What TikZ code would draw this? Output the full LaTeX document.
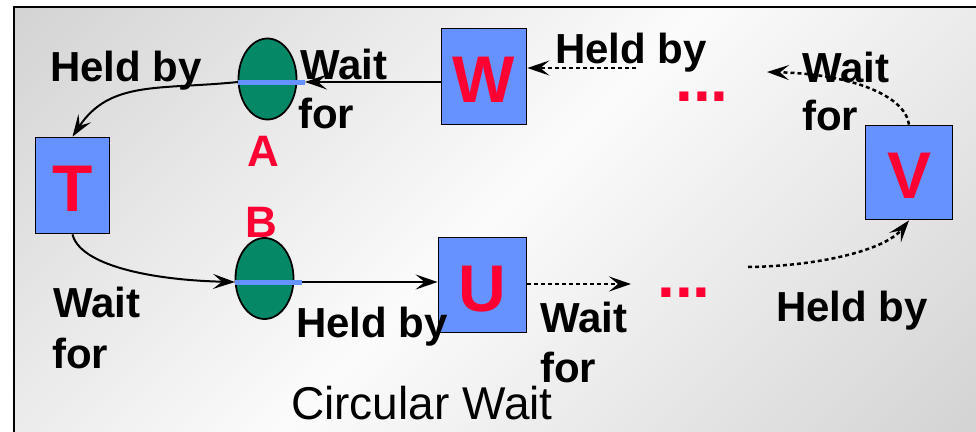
\documentclass[tikz,border=0pt]{standalone}
\usepackage{fontspec}
\setmainfont{Liberation Sans}
\usetikzlibrary{arrows.meta,shapes.geometric}
\definecolor{boxblue}{RGB}{102,146,255}
\definecolor{lred}{RGB}{255,0,51}
\definecolor{resgreen}{RGB}{5,136,102}
\begin{document}
\begin{tikzpicture}[x=1pt,y=-1pt,
  proc/.style={draw=black,line width=1.8pt,fill=boxblue,inner sep=0pt,font=\fontsize{66}{66}\selectfont\bfseries,text=lred,text height=52pt,text depth=0pt},
  res/.style={draw=black,line width=1.8pt,fill=resgreen,ellipse,inner sep=0pt,minimum width=58pt,minimum height=81pt},
  lbl/.style={font=\fontsize{42}{49}\selectfont\bfseries,inner sep=0pt,anchor=base west},
  rlbl/.style={font=\fontsize{44}{44}\selectfont\bfseries,inner sep=0pt,text=lred},
  dots/.style={font=\fontsize{64}{64}\selectfont\bfseries,inner sep=0pt,anchor=base west,text=lred,text height=9pt,text depth=0pt},
  solidarr/.style={line width=2pt,-{Stealth[length=22pt,width=15pt,inset=9pt]}},
  dotarr/.style={line width=2.5pt,dash pattern=on 4pt off 3pt,-{Stealth[length=22pt,width=15pt,inset=9pt]}},
  resbar/.style={line width=5pt,draw=boxblue}
]
\useasboundingbox (0,0) rectangle (976,431);
\begin{scope}
\clip (14,7) rectangle (976,431);
\foreach \t in {0,8,...,1000}{
  \pgfmathsetmacro\g{\t<500 ? 17.5-16*\t/500 : 1.5+15*(\t-500)/470}
  \pgfmathsetmacro\a{\t*0.7071}
  \pgfmathsetmacro\w{(\t+9)*0.7071}
  \fill[black!\g] ({\a-566},{\a+566}) -- ({\a+566},{\a-566}) -- ({\w+566},{\w-566}) -- ({\w-566},{\w+566}) -- cycle;
}
\end{scope}
\begin{scope}
\clip (0,0) rectangle (976,431);
\draw[line width=2.2pt] (14,7) rectangle (990,445);
\end{scope}

% processes
\node[proc,minimum width=85pt,minimum height=96pt] (W) at (484,76.5) {W};
\node[proc,minimum width=74pt,minimum height=96pt] (T) at (72.5,185.5) {T};
\node[proc,minimum width=88pt,minimum height=95pt] (U) at (482.5,285) {U};
\node[proc,minimum width=87pt,minimum height=94pt] (V) at (909,172.5) {V};

% resources
\node[res] (A) at (267.5,79) {};
\node[res] (B) at (264.5,278.5) {};
\coordinate (Al) at (238,82);
\coordinate (Ar) at (305,82);
\coordinate (Bl) at (235,282);
\coordinate (Br) at (302,282);
\draw[resbar] (Al) -- (Ar);
\draw[resbar] (Bl) -- (Br);
\node[rlbl] (Alab) at (263,151) {A};
\node[rlbl] (Blab) at (261,222) {B};

% free ends
\coordinate (ud) at (631,284);
\coordinate (dv) at (748,267);
\coordinate (vd) at (767,72);
\coordinate (dw) at (636,68);

% connectors
\draw[solidarr] ([yshift=-5.5pt]W.west) -- (Ar);
\draw[solidarr] (Al) .. controls (160,90) and (110,80) .. (T.north);
\draw[solidarr] (T.south) .. controls (80,265) and (150,280) .. (Bl);
\draw[solidarr] (Br) -- ([yshift=3pt]U.west);
\draw[dotarr] ([yshift=1pt]U.east) -- (ud);
\draw[dotarr] (dv) .. controls (820,266) and (885,250) .. (V.south);
\draw[dotarr] (V.north) .. controls (905,95) and (850,74) .. (vd);
\draw[dotarr] (dw) -- ([yshift=8.5pt]W.east);

% labels
\node[lbl] (l1) at (50,81) {Held by};
\node[lbl] (l2a) at (300,79) {Wait};
\node[lbl] (l2b) at (298,128) {for};
\node[lbl] (l3) at (555,63) {Held by};
\node[lbl] (l4a) at (802,82) {Wait};
\node[lbl] (l4b) at (802,130) {for};
\node[lbl] (l5a) at (53,317) {Wait};
\node[lbl] (l5b) at (52,368) {for};
\node[lbl] (l6) at (296,337) {Held by};
\node[lbl] (l7a) at (540,332) {Wait};
\node[lbl] (l7b) at (540,382) {for};
\node[lbl] (l8) at (776,321) {Held by};
\node[dots] (d1) at (675,101) {...};
\node[dots] (d2) at (657,297) {...};
\node[font=\fontsize{46}{46}\selectfont,inner sep=0pt,anchor=base west] (title) at (291,419) {Circular Wait};
\end{tikzpicture}
\end{document}
